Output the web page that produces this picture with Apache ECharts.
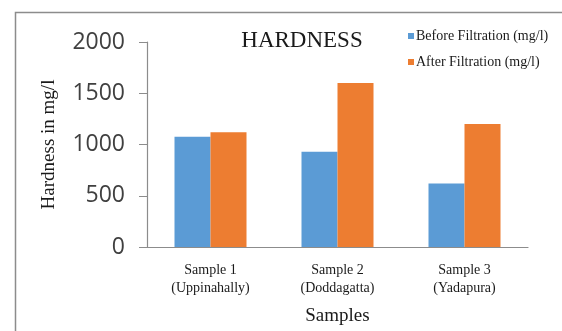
<!DOCTYPE html>
<html>
<head>
<meta charset="utf-8">
<script src="https://cdn.jsdelivr.net/npm/echarts@6/dist/echarts.min.js"></script>
<style>
html,body{margin:0;padding:0;background:#fff;}
#c{width:562px;height:331px;}
</style>
</head>
<body>
<div id="c"></div>
<script>
const categories = ['Sample 1\n(Uppinahally)', 'Sample 2\n(Doddagatta)', 'Sample 3\n(Yadapura)'];
const beforeFiltration = [1075, 930, 620];
const afterFiltration = [1120, 1600, 1200];
const seriesNames = ['Before Filtration (mg/l)', 'After Filtration (mg/l)'];
const yTicks = [0, 500, 1000, 1500, 2000];

const serif = '"Liberation Serif", "DejaVu Serif", serif';
const chart = echarts.init(document.getElementById('c'), null, {renderer: 'canvas'});
chart.setOption({
  animation: false,
  backgroundColor: '#fff',
  graphic: [{
    type: 'rect', left: 13, top: 10, z: -1,
    shape: {width: 600, height: 400},
    style: {fill: 'none', stroke: '#8c8c8c', lineWidth: 1.5}
  }],
  title: {
    text: 'HARDNESS', left: 297, top: 24, textAlign: 'center',
    textStyle: {fontFamily: serif, fontSize: 23, fontWeight: 'normal', color: '#1a1a1a'}
  },
  legend: {
    orient: 'vertical', left: 403, top: 23, itemWidth: 6, itemHeight: 6, itemGap: 10,
    icon: 'rect',
    textStyle: {fontFamily: serif, fontSize: 14, color: '#1a1a1a', lineHeight: 16, padding: [0,0,0,-3]},
    data: seriesNames
  },
  grid: {left: 147, right: 34, top: 42, bottom: 83},
  xAxis: {
    type: 'category', data: categories,
    axisLine: {lineStyle: {color: '#8c8c8c', width: 1.2}},
    axisTick: {show: false},
    axisLabel: {fontFamily: serif, fontSize: 14, color: '#1a1a1a', lineHeight: 18, margin: 14},
    name: 'Samples', nameLocation: 'middle', nameGap: 60,
    nameTextStyle: {fontFamily: serif, fontSize: 19, color: '#1a1a1a'}
  },
  yAxis: {
    type: 'value', min: 0, max: 2000, interval: 500,
    axisLine: {show: true, lineStyle: {color: '#8c8c8c', width: 1.2}},
    axisTick: {show: true, length: 8, lineStyle: {color: '#8c8c8c'}},
    splitLine: {show: false},
    axisLabel: {fontFamily: '"Open Sans", sans-serif', fontSize: 23, color: '#404040', margin: 22,
      formatter: v => yTicks.includes(v) ? String(v) : ''},
    name: 'Hardness in mg/l', nameLocation: 'middle', nameGap: 88,
    nameTextStyle: {fontFamily: serif, fontSize: 19, color: '#1a1a1a'}
  },
  series: [
    {name: seriesNames[0], type: 'bar', data: beforeFiltration, barWidth: 36, barGap: '0%',
      itemStyle: {color: '#5B9BD5'}},
    {name: seriesNames[1], type: 'bar', data: afterFiltration, barWidth: 36, barGap: '0%',
      itemStyle: {color: '#ED7D31'}}
  ]
});
</script>
</body>
</html>
